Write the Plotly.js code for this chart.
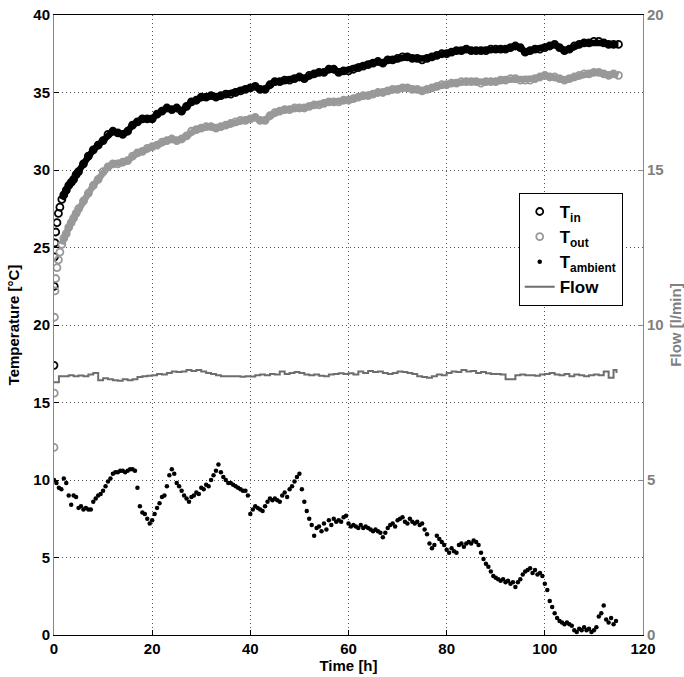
<!DOCTYPE html>
<html><head><meta charset="utf-8">
<script src="https://cdn.plot.ly/plotly-3.0.1.min.js"></script>
<style>html,body{margin:0;padding:0;background:#fff}#chart{width:684px;height:677px}</style>
</head><body><div id="chart"></div>
<script>
// Time [h] for the temperature series
var tempTime = [0,0.05,0.1,0.2,0.35,0.6,0.9,1.2,1.6,2,2.5,3,3.5,4,4.5,5,
 6,7,8,9,10,11,12,13,14,15,16,17,18,19,20,21,22,23,24,25,26,27,28,29,30,
 31,32,33,34,35,36,37,38,39,40,41,42,43,44,45,46,47,48,49,50,51,52,53,54,55,
 56,57,58,59,60,61,62,63,64,65,66,67,68,69,70,71,72,73,74,75,76,77,78,79,80,
 81,82,83,84,85,86,87,88,89,90,91,92,93,94,95,96,97,98,99,100,101,102,103,104,105,
 106,107,108,109,110,111,112,113,114,115];
var tIn = [17.4,22.5,24.4,25.3,26.0,26.6,27.2,27.6,28.1,28.4,28.7,29.0,29.2,29.4,29.7,29.9,
 30.4,30.9,31.3,31.6,31.9,32.3,32.5,32.4,32.3,32.5,32.9,33.1,33.3,33.3,33.3,33.6,33.8,34.0,33.9,34.0,33.8,34.1,34.4,34.5,34.7,
 34.7,34.8,34.7,34.8,34.9,34.9,35.0,35.1,35.2,35.3,35.4,35.2,35.2,35.5,35.7,35.7,35.8,35.8,35.9,36.0,35.9,36.1,36.2,36.3,36.3,
 36.5,36.5,36.3,36.4,36.4,36.5,36.6,36.7,36.8,36.9,37.0,36.9,37.1,37.1,37.2,37.3,37.3,37.2,37.2,37.1,37.2,37.3,37.4,37.5,37.5,
 37.6,37.7,37.7,37.8,37.7,37.7,37.7,37.7,37.8,37.8,37.8,37.8,37.9,38.0,37.9,37.6,37.7,37.8,37.8,37.9,38.0,38.1,37.9,37.7,37.8,
 38.0,38.1,38.2,38.2,38.3,38.3,38.2,38.1,38.1,38.1];
var tOut = [12.1,15.6,20.5,22.2,23.0,23.7,24.2,24.7,25.2,25.6,25.9,26.3,26.6,26.9,27.2,27.5,
 28.0,28.5,29.0,29.4,29.9,30.2,30.4,30.4,30.5,30.6,30.9,31.1,31.2,31.4,31.5,31.6,31.8,31.9,32.0,31.9,32.0,32.2,32.5,32.6,32.7,
 32.8,32.8,32.7,32.8,32.9,33.0,33.1,33.2,33.2,33.3,33.4,33.2,33.2,33.5,33.7,33.8,33.9,33.9,34.0,34.0,34.0,34.1,34.2,34.2,34.3,
 34.4,34.4,34.4,34.5,34.5,34.6,34.7,34.8,34.8,34.9,35.0,35.0,35.1,35.2,35.2,35.3,35.3,35.2,35.2,35.1,35.2,35.3,35.4,35.5,35.5,
 35.6,35.6,35.7,35.7,35.7,35.7,35.6,35.7,35.7,35.7,35.8,35.8,35.9,35.9,35.8,35.8,35.8,35.9,36.0,36.1,36.0,36.0,35.9,35.8,35.9,
 36.0,36.1,36.2,36.2,36.3,36.3,36.2,36.1,36.2,36.1];

// Ambient temperature
var ambTime = [0,0.5,1,1.5,2,2.5,3,3.5,4,4.5,5,5.5,6,6.5,7,7.5,8,8.5,9,9.5,
 10,10.5,11,11.5,12,12.5,13,13.5,14,14.5,15,15.5,16,16.5,17,17.5,18,18.5,19,19.5,
 20,20.5,21,21.5,22,22.5,23,23.5,24,24.5,25,25.5,26,26.5,27,27.5,28,28.5,29,29.5,
 30,30.5,31,31.5,32,32.5,33,33.5,34,34.5,35,35.5,36,36.5,37,37.5,38,38.5,39,39.5,
 40,40.5,41,41.5,42,42.5,43,43.5,44,44.5,45,45.5,46,46.5,47,47.5,48,48.5,49,49.5,
 50,50.5,51,51.5,52,52.5,53,53.5,54,54.5,55,55.5,56,56.5,57,57.5,58,58.5,59,59.5,
 60,60.5,61,61.5,62,62.5,63,63.5,64,64.5,65,65.5,66,66.5,67,67.5,68,68.5,69,69.5,
 70,70.5,71,71.5,72,72.5,73,73.5,74,74.5,75,75.5,76,76.5,77,77.5,78,78.5,79,79.5,
 80,80.5,81,81.5,82,82.5,83,83.5,84,84.5,85,85.5,86,86.5,87,87.5,88,88.5,89,89.5,
 90,90.5,91,91.5,92,92.5,93,93.5,94,94.5,95,95.5,96,96.5,97,97.5,98,98.5,99,99.5,
 100,100.5,101,101.5,102,102.5,103,103.5,104,104.5,105,105.5,106,106.5,107,107.5,108,108.5,109,109.5,
 110,110.5,111,111.5,112,112.5,113,113.5,114,114.5];
var tAmb = [10.0,9.8,9.5,9.4,10.1,9.8,9.0,8.4,9.0,8.9,
 8.2,8.3,8.1,8.2,8.1,8.1,8.6,8.8,9.0,9.1,
 9.3,9.6,9.9,10.1,10.4,10.5,10.5,10.6,10.6,10.5,
 10.6,10.7,10.7,10.6,9.5,8.3,7.9,7.8,7.5,7.2,
 7.4,7.8,8.2,8.5,8.9,9.0,9.6,10.3,10.7,10.4,
 9.8,9.6,9.3,9.0,8.8,8.6,8.9,9.0,9.2,9.1,
 9.5,9.4,9.7,9.6,10.0,10.3,10.6,11.0,10.5,10.2,
 10.0,9.8,9.8,9.7,9.6,9.5,9.4,9.3,9.3,9.0,
 7.8,8.1,8.3,8.2,8.1,8.0,8.3,8.6,8.8,8.7,
 8.8,8.7,8.6,9.0,9.2,8.9,9.4,9.6,9.9,10.2,
 10.4,9.4,8.6,8.0,7.5,7.1,6.4,6.9,7.0,6.7,
 7.2,6.8,7.4,7.1,7.5,7.3,7.4,7.3,7.6,7.7,
 7.2,7.0,7.1,7.0,6.9,7.1,6.9,7.0,6.9,6.8,
 6.7,6.8,6.7,6.6,6.3,6.6,6.9,7.1,7.2,7.0,
 7.4,7.5,7.6,7.3,7.2,7.5,7.3,7.2,7.3,7.1,
 7.2,6.8,6.5,5.9,5.6,5.8,6.4,6.2,6.0,5.8,
 5.5,5.3,5.6,5.4,5.3,5.8,5.9,5.7,5.9,6.0,
 5.9,6.1,6.0,5.8,5.3,4.9,4.6,4.4,4.1,3.8,
 3.7,3.6,3.5,3.6,3.4,3.5,3.3,3.4,3.1,3.4,
 3.6,3.9,4.1,4.2,4.3,4.0,4.2,3.9,4.0,3.8,
 3.3,2.9,2.2,1.8,1.4,1.1,0.9,0.8,0.7,0.8,
 0.7,0.6,0.3,0.2,0.4,0.3,0.5,0.3,0.4,0.2,
 0.3,0.5,1.2,1.4,1.9,1.0,0.8,1.1,0.7,0.9];

// Flow [l/min]
var flowTime = [0,1,2,3,4,5,6,7,8,9,10,11,12,13,14,15,16,17,18,19,20,21,22,23,24,25,26,27,28,29,
 30,31,32,33,34,35,36,37,38,39,40,41,42,43,44,45,46,47,48,49,50,51,52,53,54,55,56,57,58,59,
 60,61,62,63,64,65,66,67,68,69,70,71,72,73,74,75,76,77,78,79,80,81,82,83,84,85,86,87,88,89,
 90,91,92,93,94,95,96,97,98,99,100,101,102,103,104,105,106,107,108,109,110,111,112,113,114,114.6];
var flow = [8.15,8.35,8.35,8.38,8.35,8.37,8.35,8.4,8.45,8.22,8.28,8.25,8.22,8.2,8.25,8.22,8.25,8.32,8.35,8.36,
 8.38,8.42,8.4,8.45,8.5,8.48,8.5,8.55,8.52,8.55,8.5,8.45,8.42,8.38,8.35,8.35,8.35,8.35,8.33,8.35,
 8.34,8.38,8.4,8.38,8.42,8.4,8.5,8.42,8.45,8.48,8.45,8.4,8.38,8.4,8.36,8.35,8.4,8.42,8.44,8.42,
 8.44,8.4,8.5,8.45,8.52,8.48,8.5,8.45,8.42,8.45,8.5,8.48,8.45,8.42,8.35,8.32,8.3,8.35,8.4,8.38,
 8.45,8.5,8.48,8.55,8.5,8.52,8.45,8.48,8.44,8.42,8.42,8.4,8.25,8.25,8.38,8.4,8.38,8.38,8.36,8.4,
 8.42,8.45,8.4,8.38,8.42,8.35,8.4,8.38,8.35,8.38,8.4,8.38,8.5,8.3,8.55,8.45];

var bandStart = 8; // band drawn once circles merge
var traces = [
 {x: tempTime.slice(bandStart), y: tIn.slice(bandStart), mode:'lines', line:{color:'#000', width:6.5}, showlegend:false, hoverinfo:'skip'},
 {x: tempTime, y: tIn, mode:'markers', name:'T<sub>in</sub>', marker:{symbol:'circle-open', size:7, color:'#000', line:{width:1.8}}},
 {x: tempTime.slice(bandStart), y: tOut.slice(bandStart), mode:'lines', line:{color:'#999', width:6.5}, showlegend:false, hoverinfo:'skip'},
 {x: tempTime, y: tOut, mode:'markers', name:'T<sub>out</sub>', marker:{symbol:'circle-open', size:7, color:'#999', line:{width:1.8}}},
 {x: ambTime, y: tAmb, mode:'markers', name:'T<sub>ambient</sub>', marker:{symbol:'circle', size:4.5, color:'#000'}},
 {x: flowTime, y: flow, yaxis:'y2', mode:'lines', name:'Flow', line:{color:'#6e6e6e', width:2, shape:'hv'}}
];

var tickFont = {family:'Liberation Sans, Arial, sans-serif', size:15, color:'#000', weight:'bold'};
var layout = {
 width:684, height:677,
 margin:{l:54, r:41, t:15, b:42},
 paper_bgcolor:'#fff', plot_bgcolor:'#fff',
 font:{family:'Liberation Sans, Arial, sans-serif', color:'#000'},
 showlegend:true,
 legend:{x:0.789, y:0.713, xanchor:'left', yanchor:'top', bgcolor:'#fff', bordercolor:'#000', borderwidth:1,
   font:{size:17, weight:'bold', color:'#000'}, tracegroupgap:0, itemwidth:30},
 xaxis:{range:[0,120], dtick:20, tick0:0, showgrid:true, gridcolor:'#555', griddash:'1px,3px', gridwidth:1,
   showline:true, linecolor:'#000', linewidth:1, mirror:true, ticks:'inside', ticklen:5, tickcolor:'#000',
   zeroline:false, tickfont:tickFont,
   title:{text:'Time [h]', font:{size:15, weight:'bold', color:'#000'}, standoff:2}},
 yaxis:{range:[0,40], dtick:5, tick0:0, showgrid:true, gridcolor:'#555', griddash:'1px,3px', gridwidth:1,
   showline:true, linecolor:'#888', linewidth:1, ticks:'inside', ticklen:5, tickcolor:'#000',
   zeroline:false, tickfont:tickFont,
   title:{text:'Temperature [°C]', font:{size:15, weight:'bold', color:'#000'}, standoff:10}},
 yaxis2:{range:[0,20], dtick:5, tick0:0, overlaying:'y', side:'right', showgrid:false, zeroline:false,
   showline:true, linecolor:'#888', linewidth:1, ticks:'inside', ticklen:5, tickcolor:'#888',
   tickfont:{family:'Liberation Sans, Arial, sans-serif', size:15, color:'#808080', weight:'bold'},
   title:{text:'Flow [l/min]', font:{size:15, weight:'bold', color:'#808080'}, standoff:8}}
};
Plotly.newPlot('chart', traces, layout, {displayModeBar:false, staticPlot:true});
</script></body></html>
